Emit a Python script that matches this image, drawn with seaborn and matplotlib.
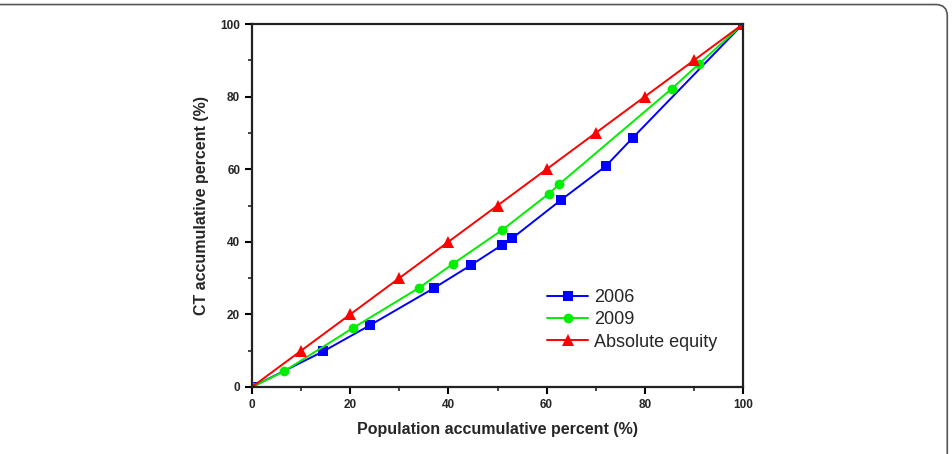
import numpy as np
import pandas as pd
import seaborn as sns
import matplotlib.pyplot as plt
from matplotlib.patches import FancyBboxPatch
from matplotlib.ticker import MultipleLocator

x_2006 = [0, 14.5, 24, 37, 44.5, 51, 53, 63, 72, 77.5, 100]
y_2006 = [0, 9.8, 17, 27.2, 33.5, 39.2, 41, 51.6, 60.8, 68.6, 100]
x_2009 = [0, 6.5, 20.5, 34, 41, 51, 60.5, 62.5, 85.5, 91, 100]
y_2009 = [0, 4.3, 16.2, 27.3, 34, 43.3, 53.3, 55.8, 82.2, 89, 100]
x_eq = [0, 10, 20, 30, 40, 50, 60, 70, 80, 90, 100]
y_eq = [0, 10, 20, 30, 40, 50, 60, 70, 80, 90, 100]

series = ['2006', '2009', 'Absolute equity']
df = pd.concat([
    pd.DataFrame({'x': x_2006, 'y': y_2006, 'series': '2006'}),
    pd.DataFrame({'x': x_2009, 'y': y_2009, 'series': '2009'}),
    pd.DataFrame({'x': x_eq, 'y': y_eq, 'series': 'Absolute equity'}),
], ignore_index=True)

sns.set_style('white')
plt.rcParams['font.family'] = ['Liberation Sans', 'DejaVu Sans']

fig = plt.figure(figsize=(9.53, 4.54), dpi=100)
ax = fig.add_axes([0.2644, 0.1476, 0.5153, 0.7995])

# card border, only top edge and right corner are visible
card = FancyBboxPatch((-0.05, -0.2), 1.044, 1.19, boxstyle='round,pad=0,rounding_size=0.012',
                      transform=fig.transFigure, fill=False, edgecolor='#555555', linewidth=1.2,
                      mutation_aspect=953 / 454)
fig.patches.append(card)

sns.lineplot(data=df, x='x', y='y', hue='series', style='series', hue_order=series,
             style_order=series, palette=['#0000ff', '#00ee00', '#ff0000'],
             markers=['s', 'o', '^'], dashes=False, markersize=7, linewidth=1.4,
             markeredgewidth=0, sort=False, estimator=None, ax=ax)
for ln in ax.lines:
    if ln.get_marker() == '^':
        ln.set_markersize(9)

ax.set_xlim(0, 100)
ax.set_ylim(0, 100)
ax.xaxis.set_major_locator(MultipleLocator(20))
ax.yaxis.set_major_locator(MultipleLocator(20))
ax.xaxis.set_minor_locator(MultipleLocator(10))
ax.yaxis.set_minor_locator(MultipleLocator(10))
ax.tick_params(which='major', direction='out', length=5, width=1.5, labelsize=8.5,
               bottom=True, left=True, color='black')
ax.tick_params(which='minor', direction='out', length=3, width=1.2, bottom=True, left=True)
for lab in ax.get_xticklabels() + ax.get_yticklabels():
    lab.set_fontweight('bold')
for s in ax.spines.values():
    s.set_linewidth(1.6)
    s.set_color('#222222')

ax.set_xlabel('Population accumulative percent (%)', fontsize=11.5, fontweight='bold', labelpad=8)
ax.set_ylabel('CT accumulative percent (%)', fontsize=11.5, fontweight='bold', labelpad=8)

leg = ax.legend(loc='lower right', bbox_to_anchor=(0.98, 0.055), frameon=False, fontsize=13,
                handlelength=2.3, labelspacing=0.3, handletextpad=0.3)
for h in leg.legend_handles:
    if h.get_marker() == '^':
        h.set_markersize(9)

fig.savefig('out.png', dpi=100, facecolor='white')
